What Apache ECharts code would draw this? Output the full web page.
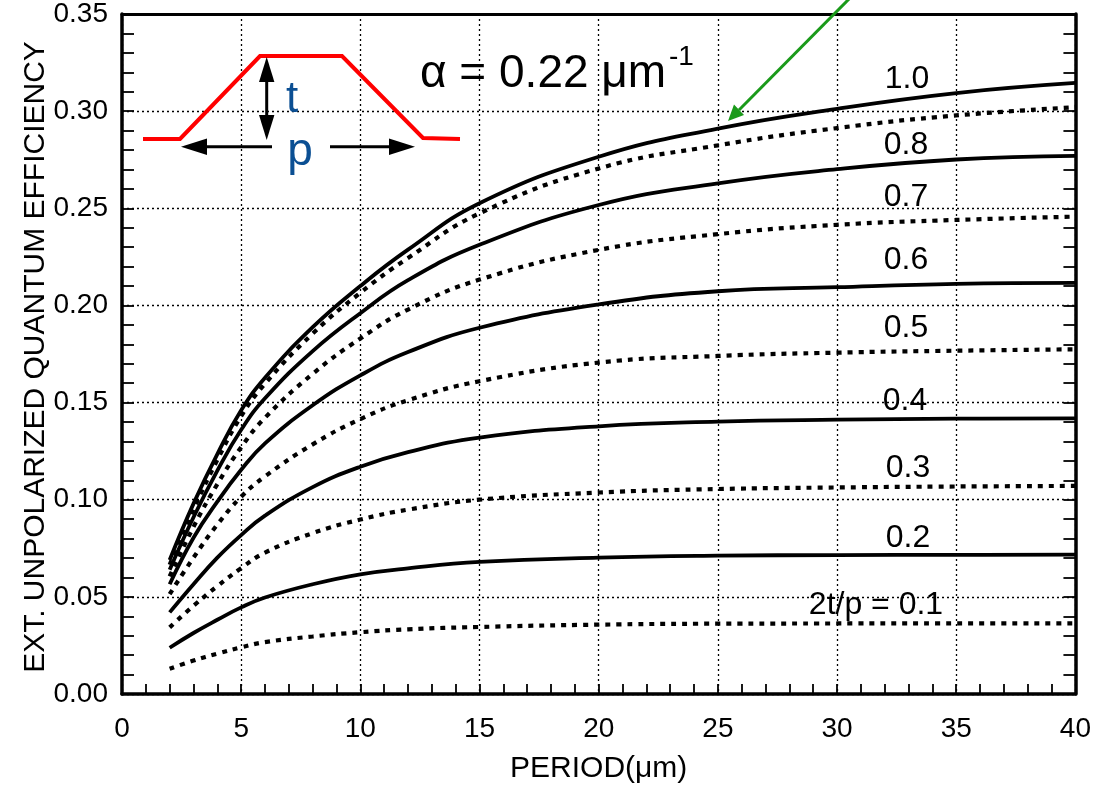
<!DOCTYPE html>
<html>
<head>
<meta charset="utf-8">
<script src="https://cdn.jsdelivr.net/npm/echarts@6/dist/echarts.min.js"></script>
<style>
html,body{margin:0;padding:0;background:#fff;}
#chart{width:1094px;height:789px;}
</style>
</head>
<body>
<div id="chart"></div>
<script>
// Period values (µm) at which curves were read
var periods = [2, 3, 4, 5, 6, 8, 10, 12, 15, 20, 25, 30, 35, 40];
// Efficiency curves for each 2t/p ratio
var r10 = [0.069, 0.098, 0.1235, 0.146, 0.1628, 0.1888, 0.210, 0.2287, 0.2526, 0.2765, 0.291, 0.3012, 0.3093, 0.3145];
var r09 = [0.0665, 0.095, 0.1205, 0.143, 0.1597, 0.1855, 0.2065, 0.2244, 0.2474, 0.2705, 0.2824, 0.2913, 0.2978, 0.302];
var r08 = [0.064, 0.091, 0.115, 0.136, 0.1522, 0.1765, 0.196, 0.2130, 0.2312, 0.2517, 0.2628, 0.2701, 0.2751, 0.277];
var r07 = [0.0605, 0.086, 0.108, 0.127, 0.1422, 0.1648, 0.183, 0.1979, 0.2133, 0.2286, 0.2367, 0.2415, 0.244, 0.2457];
var r06 = [0.0565, 0.0804, 0.099, 0.1154, 0.129, 0.1486, 0.164, 0.176, 0.1885, 0.2005, 0.2073, 0.2094, 0.2111, 0.2116];
var r05 = [0.0514, 0.0702, 0.0872, 0.1015, 0.112, 0.1285, 0.1415, 0.1512, 0.161, 0.1706, 0.174, 0.1757, 0.1767, 0.1774];
var r04 = [0.042, 0.0565, 0.0702, 0.0818, 0.0918, 0.1065, 0.1170, 0.1245, 0.1320, 0.1378, 0.1402, 0.1412, 0.1417, 0.1419];
var r03 = [0.0343, 0.0454, 0.0555, 0.0648, 0.0728, 0.0828, 0.0898, 0.0949, 0.100, 0.1037, 0.1055, 0.1063, 0.1068, 0.1071];
var r02 = [0.0238, 0.0314, 0.0382, 0.0446, 0.0497, 0.0565, 0.0616, 0.0647, 0.068, 0.0702, 0.0712, 0.0715, 0.0716, 0.0717];
var r01 = [0.013, 0.0172, 0.0208, 0.024, 0.0267, 0.0296, 0.0318, 0.0333, 0.0345, 0.0357, 0.0362, 0.0363, 0.0364, 0.0364];
var ratios = ['1.0', '0.9', '0.8', '0.7', '0.6', '0.5', '0.4', '0.3', '0.2', '0.1'];
var curves = [r10, r09, r08, r07, r06, r05, r04, r03, r02, r01];
// Axis tick labels
var yTickLabels = ['0.00', '0.05', '0.10', '0.15', '0.20', '0.25', '0.30', '0.35'];
var xTickLabels = ['0', '5', '10', '15', '20', '25', '30', '35', '40'];
var curveLabels = ['1.0', '0.8', '0.7', '0.6', '0.5', '0.4', '0.3', '0.2', '2t/p = 0.1'];
var yTitle = 'EXT. UNPOLARIZED QUANTUM EFFICIENCY';
var xTitle = 'PERIOD(μm)';

var FONT = 'Liberation Sans, Arial, sans-serif';
var chart = echarts.init(document.getElementById('chart'));

var series = curves.map(function (vals, i) {
  var dotted = (i % 2 === 1);
  return {
    name: ratios[i],
    type: 'line',
    xAxisIndex: 0, yAxisIndex: 0,
    data: periods.map(function (p, k) { return [p, vals[k]]; }),
    showSymbol: false,
    smooth: 0.45,
    lineStyle: {
      color: '#000',
      width: dotted ? 4.2 : 3.8,
      type: dotted ? [5, 6] : 'solid'
    },
    silent: true,
    z: 3
  };
});

var labelPos = [[907, 79], [906, 145], [906, 197], [906, 260], [906, 328], [905, 401], [908, 468], [908, 538], [876, 605]];

var graphics = [];
curveLabels.forEach(function (t, i) {
  graphics.push({
    type: 'text', x: labelPos[i][0], y: labelPos[i][1], z: 10,
    style: { text: t, font: '32px ' + FONT, fill: '#000', align: 'center', verticalAlign: 'middle' }
  });
});
// y axis title
graphics.push({ type: 'text', x: 36, y: 357, rotation: Math.PI / 2, z: 10,
  style: { text: yTitle, font: '30px ' + FONT, fill: '#000', align: 'center', verticalAlign: 'middle' } });
// alpha annotation
graphics.push({ type: 'text', x: 420, y: 74, z: 10,
  style: { text: 'α = 0.22 μm', font: '46px ' + FONT, fill: '#000', align: 'left', verticalAlign: 'middle' } });
graphics.push({ type: 'text', x: 669, y: 57, z: 10,
  style: { text: '-1', font: '28px ' + FONT, fill: '#000', align: 'left', verticalAlign: 'middle' } });
// trapezoid inset
graphics.push({ type: 'polyline', z: 10,
  shape: { points: [[143, 139], [180, 139], [260, 56], [342, 56], [423, 138], [460, 139]] },
  style: { stroke: '#ff0000', lineWidth: 4, fill: null } });
// vertical double arrow (t)
graphics.push({ type: 'line', z: 10, shape: { x1: 266.7, y1: 78, x2: 266.7, y2: 120 }, style: { stroke: '#000', lineWidth: 3 } });
graphics.push({ type: 'polygon', z: 10, shape: { points: [[266.7, 57], [259, 82], [274.4, 82]] }, style: { fill: '#000' } });
graphics.push({ type: 'polygon', z: 10, shape: { points: [[266.7, 140], [259, 115], [274.4, 115]] }, style: { fill: '#000' } });
// horizontal arrows (p)
graphics.push({ type: 'line', z: 10, shape: { x1: 272, y1: 146.7, x2: 200, y2: 146.7 }, style: { stroke: '#000', lineWidth: 3 } });
graphics.push({ type: 'polygon', z: 10, shape: { points: [[181, 146.7], [207, 138.5], [207, 155]] }, style: { fill: '#000' } });
graphics.push({ type: 'line', z: 10, shape: { x1: 330, y1: 146.7, x2: 396, y2: 146.7 }, style: { stroke: '#000', lineWidth: 3 } });
graphics.push({ type: 'polygon', z: 10, shape: { points: [[415, 146.7], [389, 138.5], [389, 155]] }, style: { fill: '#000' } });
graphics.push({ type: 'text', x: 292, y: 100, z: 10,
  style: { text: 't', font: '44px ' + FONT, fill: '#0b4f93', align: 'center', verticalAlign: 'middle' } });
graphics.push({ type: 'text', x: 300, y: 152, z: 10,
  style: { text: 'p', font: '46px ' + FONT, fill: '#0b4f93', align: 'center', verticalAlign: 'middle' } });
// green arrow
graphics.push({ type: 'line', z: 10, shape: { x1: 850, y1: -2, x2: 739, y2: 110 }, style: { stroke: '#1a9a1a', lineWidth: 3 } });
graphics.push({ type: 'polygon', z: 10, shape: { points: [[728, 121], [744, 115], [734, 104.5]] }, style: { fill: '#1a9a1a' } });

var option = {
  animation: false,
  backgroundColor: '#fff',
  textStyle: { fontFamily: FONT },
  grid: { left: 122, right: 17, top: 14, bottom: 91, containLabel: false },
  xAxis: [{
    type: 'value', min: 0, max: 40, interval: 5, position: 'bottom',
    name: xTitle, nameLocation: 'middle', nameGap: 60,
    nameTextStyle: { fontSize: 30, color: '#000', fontFamily: FONT },
    axisLine: { show: true, onZero: false, lineStyle: { color: '#000', width: 3.5 } },
    axisTick: { show: true, inside: true, length: 10, lineStyle: { color: '#000', width: 1.8 } },
    minorTick: { show: true, splitNumber: 5, length: 10, lineStyle: { color: '#000', width: 1.8 } },
    axisLabel: { fontSize: 28, color: '#000', margin: 21, fontFamily: FONT,
      formatter: function (v) { return xTickLabels[Math.round(v / 5)]; } },
    splitLine: { show: true, lineStyle: { color: '#000', width: 1.3, type: [2, 3] } }
  }, {
    type: 'value', min: 0, max: 40, interval: 5, position: 'top',
    axisLine: { show: true, onZero: false, lineStyle: { color: '#000', width: 3 } },
    axisTick: { show: false }, axisLabel: { show: false }, splitLine: { show: false }
  }],
  yAxis: [{
    type: 'value', min: 0, max: 0.35, interval: 0.05, position: 'left',
    axisLine: { show: true, onZero: false, lineStyle: { color: '#000', width: 3.5 } },
    axisTick: { show: true, inside: true, length: 12, lineStyle: { color: '#000', width: 1.8 } },
    minorTick: { show: true, splitNumber: 5, length: 12, lineStyle: { color: '#000', width: 1.8 } },
    axisLabel: { fontSize: 28, color: '#000', margin: 14, fontFamily: FONT,
      formatter: function (v) { return yTickLabels[Math.round(v / 0.05)]; } },
    splitLine: { show: true, lineStyle: { color: '#000', width: 1.3, type: [2, 3] } }
  }, {
    type: 'value', min: 0, max: 0.35, interval: 0.05, position: 'right',
    axisLine: { show: true, onZero: false, lineStyle: { color: '#000', width: 3.5 } },
    axisTick: { show: true, inside: true, length: 12, lineStyle: { color: '#000', width: 1.8 } },
    minorTick: { show: true, splitNumber: 5, length: 12, lineStyle: { color: '#000', width: 1.8 } },
    axisLabel: { show: false }, splitLine: { show: false }
  }],
  series: series,
  graphic: graphics
};
chart.setOption(option);
</script>
</body>
</html>
